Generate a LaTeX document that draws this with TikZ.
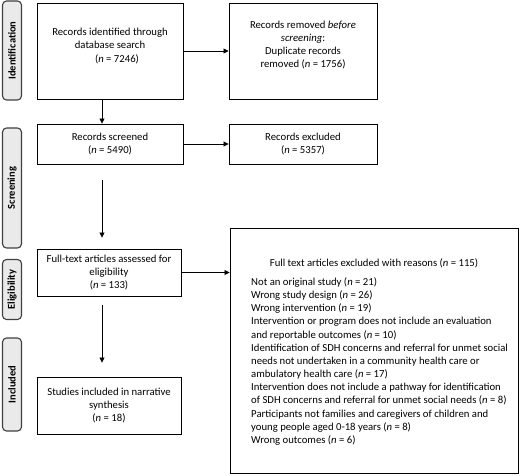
\documentclass[tikz,border=0pt]{standalone}
\usepackage{fontspec}
\setmainfont{Carlito}
\usetikzlibrary{arrows.meta}
\definecolor{sidefill}{HTML}{EAEAEA}
\definecolor{sidedraw}{HTML}{404040}
\tikzset{
  box/.style={draw=black, line width=0.9pt, fill=white, inner sep=0pt, font=\fontsize{10.7}{13.3}\selectfont, align=center},
  side/.style={draw=sidedraw, line width=1.1pt, fill=sidefill, rounded corners=4pt, inner sep=0pt,
    font=\fontsize{10.5}{11}\selectfont\bfseries, rotate=90},
  arr/.style={line width=0.8pt, -{Triangle[length=5pt,width=5pt]}},
  lbl/.style={font=\fontsize{10.7}{13.3}\selectfont, inner sep=0pt}
}
\begin{document}
\begin{tikzpicture}[x=1pt,y=-1pt]
\useasboundingbox (0,0) rectangle (520,476);
% side labels
\node[side, minimum width=99pt, minimum height=19pt] (sid) at (12,50.5) {Identification};
\node[side, minimum width=120pt, minimum height=19pt] (sscr) at (12,188) {Screening};
\node[side, minimum width=60pt, minimum height=19pt] (selig) at (12,289.5) {Eligibility};
\node[side, minimum width=93pt, minimum height=19pt] (sinc) at (12,384.5) {Included};
% boxes
\node[box, minimum width=146pt, minimum height=96pt] (id) at (110,51) {};
\node[lbl, align=center] (idt) at (110,46) {Records identified through\\database search\\\hspace*{14pt}(\textit{n} = 7246)};
\node[box, minimum width=148pt, minimum height=96pt] (rem) at (303,51) {};
\node[lbl, align=center] (remt) at (303,45) {Records removed \textit{before}\\\textit{screening}:\\Duplicate records\\removed (\textit{n} = 1756)};
\node[box, minimum width=146pt, minimum height=40pt] (scr) at (110,144) {Records screened\\(\textit{n} = 5490)};
\node[box, minimum width=148pt, minimum height=40pt] (exc) at (303,144) {Records excluded\\(\textit{n} = 5357)};
\node[box, minimum width=144pt, minimum height=47pt] (ft) at (109,272.5) {Full-text articles assessed for\\eligibility\\(\textit{n} = 133)};
\node[box, minimum width=288pt, minimum height=245pt] (rsn) at (374,350.5) {};
\node[lbl, anchor=base] (rsnt) at (374,266) {Full text articles excluded with reasons (\textit{n} = 115)};
\node[lbl, anchor=north west, align=left, font=\fontsize{10.7}{13.15}\selectfont] (rsnl) at (251,277.5) {Not an original study (\textit{n} = 21)\\
Wrong study design (\textit{n} = 26)\\
Wrong intervention (\textit{n} = 19)\\
Intervention or program does not include an evaluation\\
and reportable outcomes (\textit{n} = 10)\\
Identification of SDH concerns and referral for unmet social\\
needs not undertaken in a community health care or\\
ambulatory health care (\textit{n} = 17)\\
Intervention does not include a pathway for identification\\
of SDH concerns and referral for unmet social needs (\textit{n} = 8)\\
Participants not families and caregivers of children and\\
young people aged 0-18 years (\textit{n} = 8)\\
Wrong outcomes (\textit{n} = 6)};
\node[box, minimum width=144pt, minimum height=57pt] (inc) at (109,405.5) {Studies included in narrative\\synthesis\\(\textit{n} = 18)};
% connectors
\draw[arr] (id.east) -- (rem.west);
\draw[arr] (scr.east) -- (exc.west);
\draw[arr] (ft.east) -- (ft.east -| rsn.west);
\draw[arr] ([xshift=-8pt]id.south) -- ([xshift=-8pt]scr.north);
\draw[arr] ([xshift=-8pt,yshift=-16pt]scr.south) -- ([xshift=-7pt,yshift=11pt]ft.north);
\draw[arr] ([xshift=-7pt,yshift=-9pt]ft.south) -- ([xshift=-7pt,yshift=14pt]inc.north);
\end{tikzpicture}
\end{document}
